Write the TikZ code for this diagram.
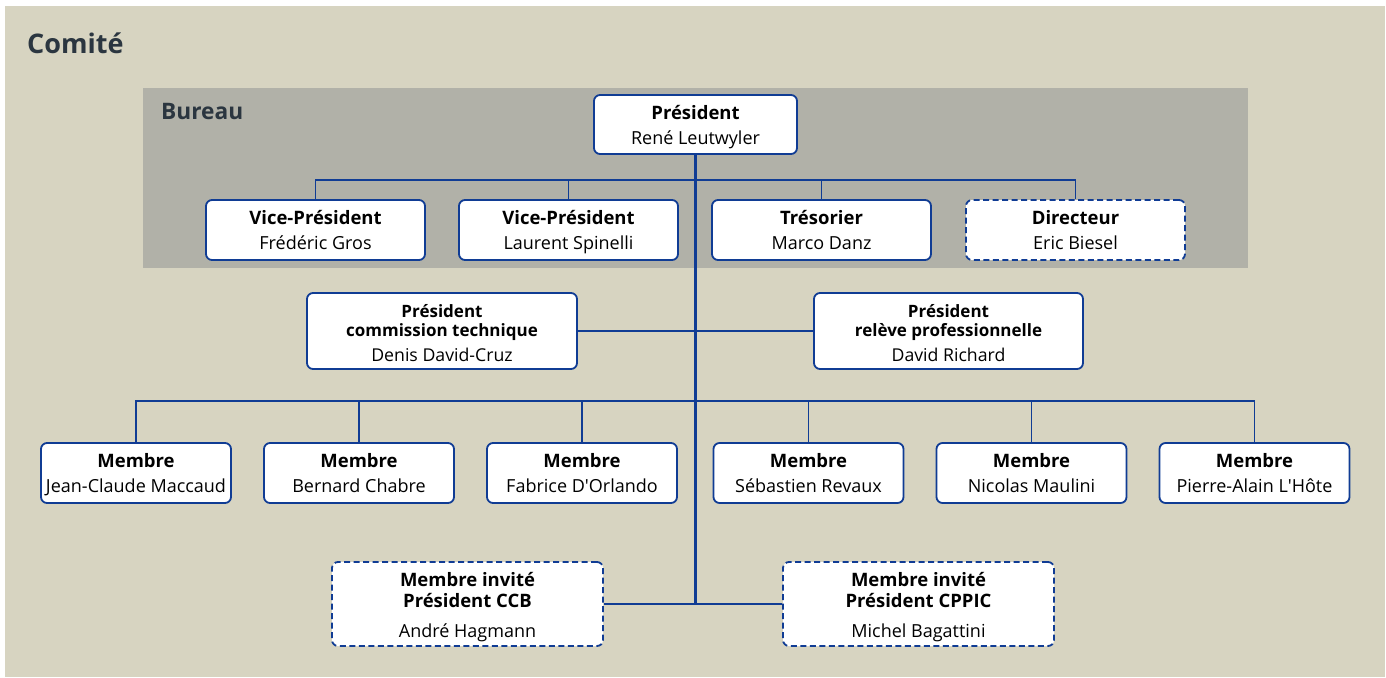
\documentclass[tikz,border=0pt]{standalone}
\usepackage{fontspec}
\setmainfont{Open Sans}
\usetikzlibrary{backgrounds}
\definecolor{beige}{RGB}{215,212,193}
\definecolor{bureaugray}{RGB}{177,177,168}
\definecolor{linkblue}{RGB}{16,60,148}
\definecolor{titlecol}{RGB}{43,54,64}
\newcommand\strA{\rule[-5pt]{0pt}{24pt}}
\newcommand\strBtop{\rule{0pt}{19pt}}
\newcommand\strB{\rule[-4pt]{0pt}{19pt}}
\newcommand\strBlast{\rule[-2pt]{0pt}{17pt}}
\newcommand\strCtop{\rule{0pt}{20.5pt}}
\newcommand\strC{\rule[-4.5pt]{0pt}{21pt}}
\newcommand\ttl[1]{{\fontsize{18.5}{25}\selectfont\bfseries #1}}
\newcommand\ttlsmall[1]{{\fontsize{17}{19}\selectfont\bfseries #1}}
\tikzset{
  box/.style={draw=linkblue, line width=1.8pt, rounded corners=6pt, fill=white,
    align=center, inner sep=0pt, font=\fontsize{18}{25}\selectfont},
  dashbox/.style={box, dash pattern=on 6pt off 3.5pt},
  conn/.style={draw=linkblue, line width=1.8pt},
  trunk/.style={draw=linkblue, line width=2.6pt},
  heading/.style={anchor=base west, text=titlecol, inner sep=0pt}
}
\begin{document}
\begin{tikzpicture}[x=1pt,y=-1pt]
\useasboundingbox (0,0) rectangle (1386,677);
\node[heading, font=\bfseries\fontsize{27}{32}\selectfont] (comite) at (27,53) {Comité};
\node[heading, font=\bfseries\fontsize{22.7}{27}\selectfont] (bureau) at (161,119) {Bureau};

\coordinate (j1) at (695.5,180);
\coordinate (j2) at (695.5,401);
\coordinate (bottom) at (695.5,604);

% nodes
\node[box, minimum width=203pt, minimum height=59pt] (pres) at (695.5,124.5) {\strA\ttl{Président}\\\strA René Leutwyler};
\node[box, minimum width=219pt, minimum height=60pt] (vp1) at (315.5,230) {\strA\ttl{Vice-Président}\\\strA Frédéric Gros};
\node[box, minimum width=219pt, minimum height=60pt] (vp2) at (568.5,230) {\strA\ttl{Vice-Président}\\\strA Laurent Spinelli};
\node[box, minimum width=219pt, minimum height=60pt] (tres) at (821.5,230) {\strA\ttl{Trésorier}\\\strA Marco Danz};
\node[dashbox, minimum width=219pt, minimum height=60pt] (dir) at (1075.5,230) {\strA\ttl{Directeur}\\\strA Eric Biesel};

\node[box, minimum width=270pt, minimum height=76pt, font=\fontsize{17.7}{19}\selectfont] (pct) at (442,331)
  {\strBtop\ttlsmall{Président}\\\strB\ttlsmall{commission technique}\\[4pt]\strBlast Denis David-Cruz};
\node[box, minimum width=269pt, minimum height=76pt, font=\fontsize{17.7}{19}\selectfont] (prp) at (948.5,331)
  {\strBtop\ttlsmall{Président}\\\strB\ttlsmall{relève professionnelle}\\[4pt]\strBlast David Richard};

\node[box, minimum width=190pt, minimum height=60pt] (m1) at (136,473) {\strA\ttl{Membre}\\\strA Jean-Claude Maccaud};
\node[box, minimum width=190pt, minimum height=60pt] (m2) at (359,473) {\strA\ttl{Membre}\\\strA Bernard Chabre};
\node[box, minimum width=190pt, minimum height=60pt] (m3) at (582,473) {\strA\ttl{Membre}\\\strA Fabrice D\textquotesingle Orlando};
\node[box, minimum width=190pt, minimum height=60pt] (m4) at (808.5,473) {\strA\ttl{Membre}\\\strA Sébastien Revaux};
\node[box, minimum width=190pt, minimum height=60pt] (m5) at (1031.5,473) {\strA\ttl{Membre}\\\strA Nicolas Maulini};
\node[box, minimum width=190pt, minimum height=60pt] (m6) at (1254.5,473) {\strA\ttl{Membre}\\\strA Pierre-Alain L\textquotesingle Hôte};

\node[dashbox, minimum width=271pt, minimum height=84pt, font=\fontsize{18}{21}\selectfont] (ccb) at (467.5,604)
  {\strCtop\ttl{Membre invité}\\\strC\ttl{Président CCB}\\[9pt]\strC André Hagmann};
\node[dashbox, minimum width=271pt, minimum height=84pt, font=\fontsize{18}{21}\selectfont] (cppic) at (918.5,604)
  {\strCtop\ttl{Membre invité}\\\strC\ttl{Président CPPIC}\\[9pt]\strC Michel Bagattini};

\begin{scope}[on background layer]
  \fill[white] (0,0) rectangle (1386,677);
  \fill[beige] (5,6) rectangle (1385,677);
  \fill[bureaugray] (143,88) rectangle (1248,268);
  \foreach \n in {vp1,vp2,tres,dir} \draw[conn] (\n.north) |- (j1);
  \foreach \n in {m1,m2,m3,m4,m5,m6} \draw[conn] (\n.north) |- (j2);
  \draw[conn] (pct.east) -- (pct.east -| bottom);
  \draw[conn] (prp.west) -- (prp.west -| bottom);
  \draw[conn] (ccb.east) -- (bottom);
  \draw[conn] (cppic.west) -- (bottom);
  \draw[trunk] (pres.south) -- (bottom);
\end{scope}
\end{tikzpicture}
\end{document}
